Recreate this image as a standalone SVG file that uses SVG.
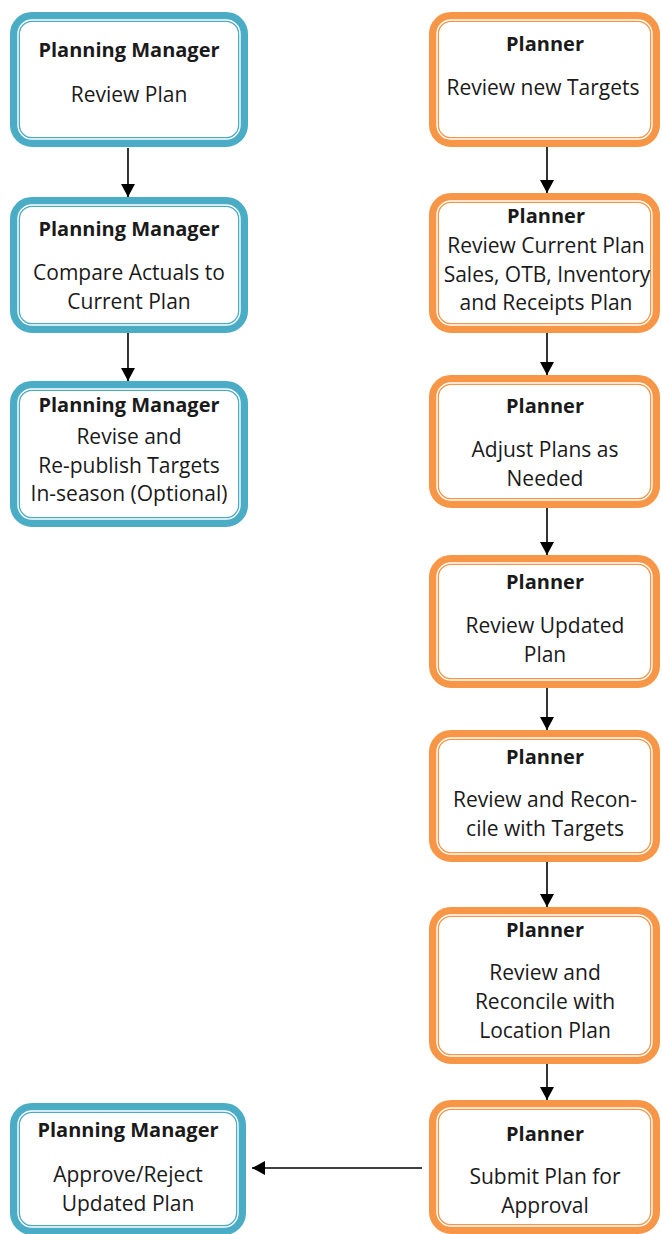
<svg xmlns="http://www.w3.org/2000/svg" width="662" height="1234" viewBox="0 0 662 1234">
<style>
.bg{fill:#ffffff}
.b1{fill:#ffffff;stroke-width:10}
.b2{fill:none;stroke:#ffffff;stroke-width:1.4}
.blue .b1{stroke:#4BACC6}
.orange .b1{stroke:#F79646}
text{font-family:"Open Sans","Liberation Sans",sans-serif;font-size:21px;fill:#1a1a1a;text-anchor:middle}
.t{font-weight:bold;font-size:20px}
.conn line{stroke:#000;stroke-width:1.6}
</style>
<defs>
<marker id="ah" markerUnits="userSpaceOnUse" markerWidth="14" markerHeight="14" refX="13" refY="7" orient="auto">
<path d="M0,0 L13,7 L0,14 Z" fill="#000"/>
</marker>
</defs>
<rect class="bg" x="0" y="0" width="662" height="1234"/>
<g class="conn">
<line x1="128" y1="148" x2="128" y2="197" marker-end="url(#ah)"/>
<line x1="128" y1="333" x2="128" y2="381" marker-end="url(#ah)"/>
<line x1="547" y1="147" x2="547" y2="193" marker-end="url(#ah)"/>
<line x1="547" y1="333" x2="547" y2="375" marker-end="url(#ah)"/>
<line x1="547" y1="508" x2="547" y2="555" marker-end="url(#ah)"/>
<line x1="547" y1="688" x2="547" y2="730" marker-end="url(#ah)"/>
<line x1="547" y1="862" x2="547" y2="907" marker-end="url(#ah)"/>
<line x1="547" y1="1064" x2="547" y2="1100" marker-end="url(#ah)"/>
<line x1="422" y1="1168" x2="252" y2="1168" marker-end="url(#ah)"/>
</g>
<g id="pm1" class="blue">
<rect class="b1" x="15" y="17" width="228" height="125" rx="17"/>
<rect class="b2" x="18" y="20" width="222" height="119" rx="14"/>
<text class="t" x="129" y="57">Planning Manager</text>
<text x="129" y="102">Review Plan</text>
</g>
<g id="pm2" class="blue">
<rect class="b1" x="15" y="202" width="228" height="126" rx="17"/>
<rect class="b2" x="18" y="205" width="222" height="120" rx="14"/>
<text class="t" x="129" y="236">Planning Manager</text>
<text x="129" y="280">Compare Actuals to</text>
<text x="129" y="309">Current Plan</text>
</g>
<g id="pm3" class="blue">
<rect class="b1" x="15" y="386" width="228" height="136" rx="17"/>
<rect class="b2" x="18" y="389" width="222" height="130" rx="14"/>
<text class="t" x="129" y="412">Planning Manager</text>
<text x="129" y="444">Revise and</text>
<text x="129" y="473">Re-publish Targets</text>
<text x="129" y="501">In-season (Optional)</text>
</g>
<g id="pm4" class="blue">
<rect class="b1" x="15" y="1108" width="226" height="122" rx="17"/>
<rect class="b2" x="18" y="1111" width="220" height="116" rx="14"/>
<text class="t" x="128" y="1137">Planning Manager</text>
<text x="128" y="1182">Approve/Reject</text>
<text x="128" y="1211">Updated Plan</text>
</g>
<g id="p1" class="orange">
<rect class="b1" x="434" y="17" width="221" height="125" rx="17"/>
<rect class="b2" x="437" y="20" width="215" height="119" rx="14"/>
<text class="t" x="545" y="51">Planner</text>
<text x="543" y="95">Review new Targets</text>
</g>
<g id="p2" class="orange">
<rect class="b1" x="434" y="198" width="221" height="130" rx="17"/>
<rect class="b2" x="437" y="201" width="215" height="124" rx="14"/>
<text class="t" x="546" y="223">Planner</text>
<text x="546" y="253">Review Current Plan</text>
<text x="547" y="282">Sales, OTB, Inventory</text>
<text x="546" y="310">and Receipts Plan</text>
</g>
<g id="p3" class="orange">
<rect class="b1" x="434" y="380" width="221" height="123" rx="17"/>
<rect class="b2" x="437" y="383" width="215" height="117" rx="14"/>
<text class="t" x="545" y="413">Planner</text>
<text x="545" y="457">Adjust Plans as</text>
<text x="545" y="486">Needed</text>
</g>
<g id="p4" class="orange">
<rect class="b1" x="434" y="560" width="221" height="123" rx="17"/>
<rect class="b2" x="437" y="563" width="215" height="117" rx="14"/>
<text class="t" x="545" y="589">Planner</text>
<text x="545" y="633">Review Updated</text>
<text x="545" y="662">Plan</text>
</g>
<g id="p5" class="orange">
<rect class="b1" x="434" y="735" width="221" height="122" rx="17"/>
<rect class="b2" x="437" y="738" width="215" height="116" rx="14"/>
<text class="t" x="545" y="764">Planner</text>
<text x="545" y="807">Review and Recon-</text>
<text x="545" y="836">cile with Targets</text>
</g>
<g id="p6" class="orange">
<rect class="b1" x="434" y="912" width="221" height="147" rx="17"/>
<rect class="b2" x="437" y="915" width="215" height="141" rx="14"/>
<text class="t" x="545" y="937">Planner</text>
<text x="545" y="980">Review and</text>
<text x="545" y="1009">Reconcile with</text>
<text x="545" y="1038">Location Plan</text>
</g>
<g id="p7" class="orange">
<rect class="b1" x="434" y="1105" width="221" height="124" rx="17"/>
<rect class="b2" x="437" y="1108" width="215" height="118" rx="14"/>
<text class="t" x="545" y="1141">Planner</text>
<text x="545" y="1184">Submit Plan for</text>
<text x="545" y="1213">Approval</text>
</g>
</svg>
